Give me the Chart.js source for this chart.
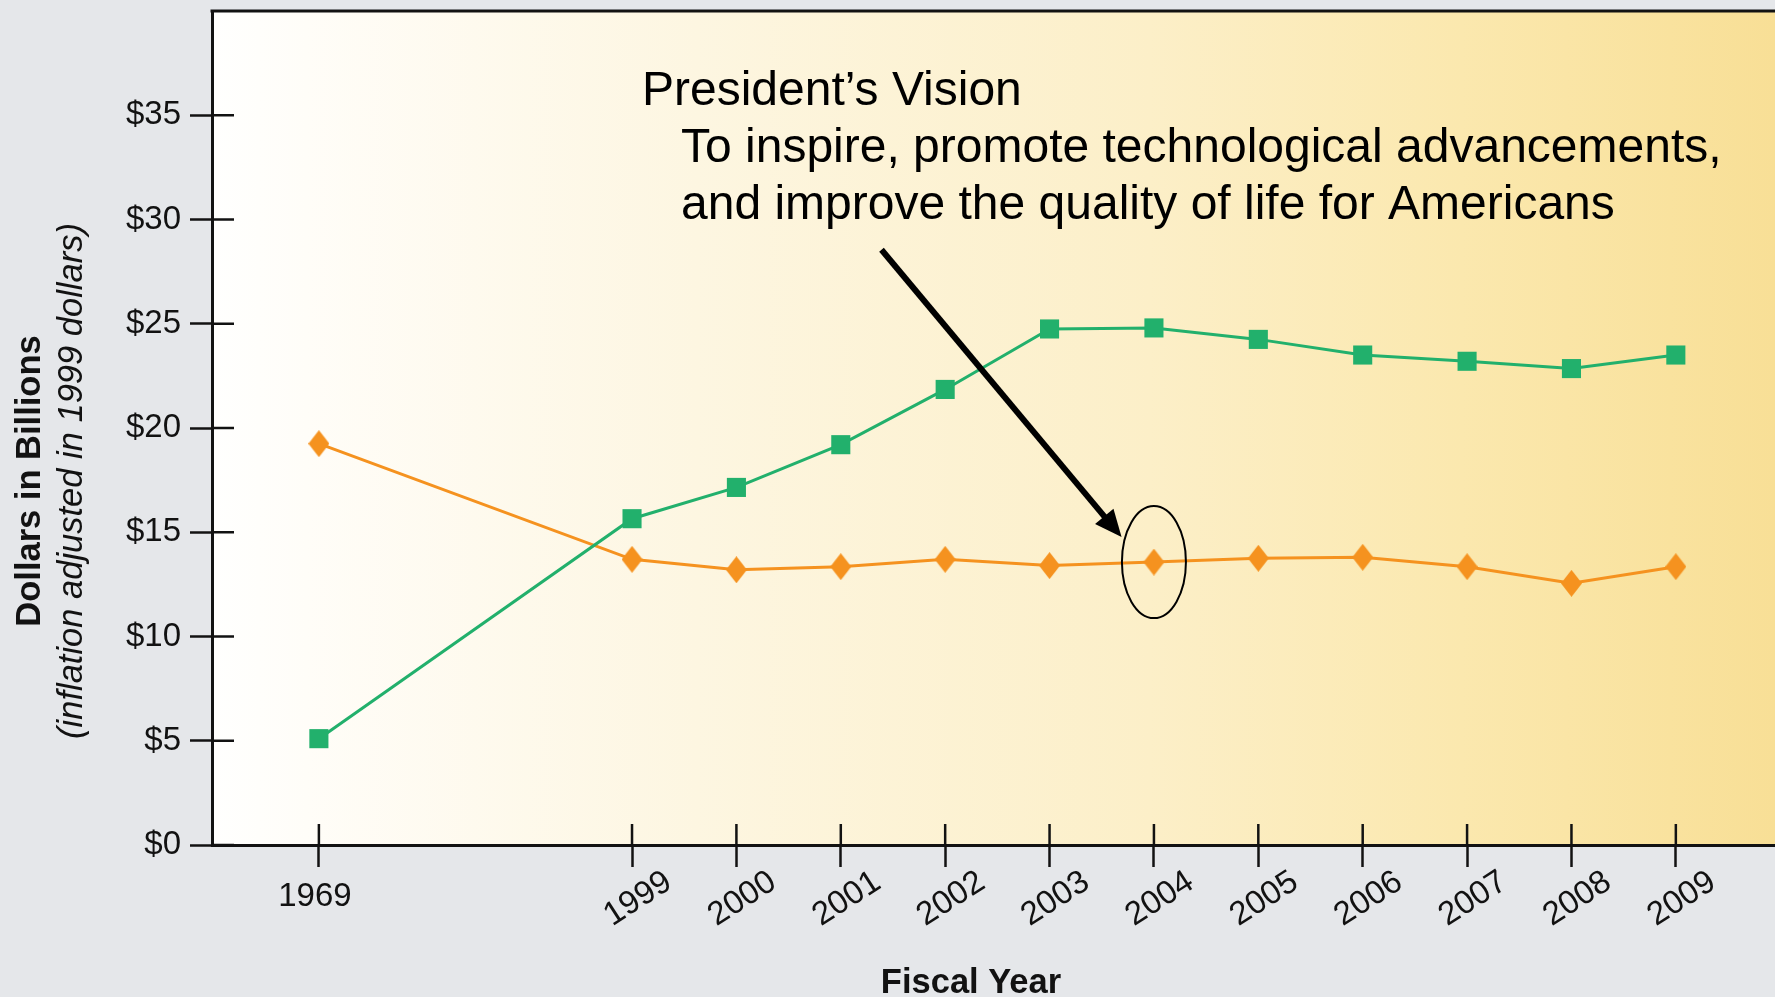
<!DOCTYPE html>
<html>
<head>
<meta charset="utf-8">
<script src="https://cdn.jsdelivr.net/npm/chart.js@4.4.1/dist/chart.umd.min.js"></script>
<style>
  html, body { margin: 0; padding: 0; background: #e5e7ea; overflow: hidden; }
  #wrap { position: relative; width: 1775px; height: 997px; }
</style>
</head>
<body>
<div id="wrap"><canvas id="c"></canvas></div>
<script>
// ---- data ----
const categories = ['1969', '', '', '1999', '2000', '2001', '2002', '2003', '2004', '2005', '2006', '2007', '2008', '2009'];
const greenSeries  = [5.1, null, null, 15.65, 17.15, 19.2, 21.85, 24.75, 24.8, 24.25, 23.5, 23.2, 22.85, 23.5];
const orangeSeries = [19.25, null, null, 13.7, 13.2, 13.35, 13.7, 13.4, 13.57, 13.75, 13.8, 13.35, 12.55, 13.35];
const yTickValues = [0, 5, 10, 15, 20, 25, 30, 35];
const yTickLabels = ['$0', '$5', '$10', '$15', '$20', '$25', '$30', '$35'];
const yTitle = 'Dollars in Billions';
const ySubtitle = '(inflation adjusted in 1999 dollars)';
const xTitle = 'Fiscal Year';
const noteLines = ['President\u2019s Vision', 'To inspire, promote technological advancements,', 'and improve the quality of life for Americans'];
const highlightCategory = '2004';

const FONT = '"Liberation Sans", Arial, Helvetica, sans-serif';
const GREEN = '#22b06c';
const ORANGE = '#f5921f';
const INK = '#121212';

function toPoints(arr) {
  return arr.map((v, i) => ({ x: i, y: v })).filter(p => p.y !== null);
}
const tickIndices = categories.map((c, i) => c === '' ? null : i).filter(v => v !== null);

// diamond marker (slightly taller than wide)
const diamond = document.createElement('canvas');
diamond.width = 21; diamond.height = 27;
(function () {
  const d = diamond.getContext('2d');
  d.fillStyle = ORANGE;
  d.beginPath();
  d.moveTo(10.5, 0); d.lineTo(21, 13.5); d.lineTo(10.5, 27); d.lineTo(0, 13.5);
  d.closePath(); d.fill();
})();

const decor = {
  id: 'decor',
  beforeDraw(chart) {
    const { ctx, chartArea: a } = chart;
    const g = ctx.createLinearGradient(a.left, 0, a.right, 0);
    g.addColorStop(0, '#fffffe');
    g.addColorStop(0.06, '#fffdf8');
    g.addColorStop(0.31, '#fdf6e1');
    g.addColorStop(0.6, '#fcefc8');
    g.addColorStop(0.8, '#fbe8ae');
    g.addColorStop(1, '#f8df96');
    ctx.save();
    ctx.fillStyle = g;
    ctx.fillRect(a.left, a.top, a.right - a.left, a.bottom - a.top);
    ctx.restore();
  },
  afterDatasetsDraw(chart) {
    const { ctx, chartArea: a, scales: { x, y } } = chart;
    ctx.save();
    // top border
    ctx.strokeStyle = INK; ctx.lineWidth = 3;
    ctx.beginPath(); ctx.moveTo(a.left - 1.5, a.top); ctx.lineTo(a.right, a.top); ctx.stroke();
    // inner halves of tick marks
    ctx.lineWidth = 2.5;
    yTickValues.forEach(v => {
      const py = y.getPixelForValue(v);
      ctx.beginPath(); ctx.moveTo(a.left, py); ctx.lineTo(a.left + 22, py); ctx.stroke();
    });
    tickIndices.forEach(i => {
      const px = x.getPixelForValue(i);
      ctx.beginPath(); ctx.moveTo(px, a.bottom); ctx.lineTo(px, a.bottom - 21); ctx.stroke();
    });

    // x tick labels
    ctx.fillStyle = INK;
    ctx.font = '33px ' + FONT;
    ctx.textAlign = 'center';
    ctx.textBaseline = 'middle';
    tickIndices.forEach((i, k) => {
      const px = x.getPixelForValue(i);
      if (k === 0) {
        ctx.fillText(categories[i], px - 4, 897);
      } else {
        ctx.save();
        ctx.translate(px + 6, 899);
        ctx.rotate(-33 * Math.PI / 180);
        ctx.fillText(categories[i], 0, 0);
        ctx.restore();
      }
    });

    // axis titles
    ctx.textBaseline = 'alphabetic';
    ctx.font = 'bold 34.5px ' + FONT;
    ctx.fillText(xTitle, 971, 993);
    ctx.save();
    ctx.translate(40, 481); ctx.rotate(-Math.PI / 2);
    ctx.fillText(yTitle, 0, 0);
    ctx.restore();
    ctx.save();
    ctx.font = 'italic 34.5px ' + FONT;
    ctx.translate(82, 481); ctx.rotate(-Math.PI / 2);
    ctx.fillText(ySubtitle, 0, 0);
    ctx.restore();

    // annotation text
    ctx.textAlign = 'left';
    ctx.font = '48px ' + FONT;
    ctx.fillStyle = '#000';
    ctx.fillText(noteLines[0], 642, 105);
    ctx.fillText(noteLines[1], 681, 162);
    ctx.fillText(noteLines[2], 681, 219);

    // arrow (in data coordinates)
    const hi = categories.indexOf(highlightCategory);
    const x0 = x.getPixelForValue(5.39), y0 = y.getPixelForValue(28.55);
    const x1 = x.getPixelForValue(7.69), y1 = y.getPixelForValue(14.77);
    const ang = Math.atan2(y1 - y0, x1 - x0);
    const headLen = 27, headHalf = 12;
    const bx = x1 - headLen * Math.cos(ang), by = y1 - headLen * Math.sin(ang);
    ctx.strokeStyle = '#000'; ctx.lineWidth = 6; ctx.lineCap = 'butt';
    ctx.beginPath(); ctx.moveTo(x0, y0); ctx.lineTo(bx + 2 * Math.cos(ang), by + 2 * Math.sin(ang)); ctx.stroke();
    ctx.beginPath();
    ctx.moveTo(x1, y1);
    ctx.lineTo(bx + headHalf * Math.sin(ang), by - headHalf * Math.cos(ang));
    ctx.lineTo(bx - headHalf * Math.sin(ang), by + headHalf * Math.cos(ang));
    ctx.closePath(); ctx.fillStyle = '#000'; ctx.fill();

    // ellipse around the highlighted point
    const ex = x.getPixelForValue(hi), ey = y.getPixelForValue(orangeSeries[hi]);
    ctx.lineWidth = 2;
    ctx.beginPath(); ctx.ellipse(ex, ey, 32, 56, 0, 0, Math.PI * 2); ctx.stroke();
    ctx.restore();
  }
};

new Chart(document.getElementById('c'), {
  type: 'line',
  data: {
    datasets: [
      {
        label: 'Green series',
        data: toPoints(greenSeries),
        borderColor: GREEN, backgroundColor: GREEN,
        borderWidth: 3, tension: 0,
        pointStyle: 'rect', pointRadius: 13.5, pointHoverRadius: 13.5,
        pointBorderWidth: 0
      },
      {
        label: 'Orange series',
        data: toPoints(orangeSeries),
        borderColor: ORANGE, backgroundColor: ORANGE,
        borderWidth: 3, tension: 0,
        pointStyle: diamond, pointRadius: 13, pointHoverRadius: 13,
        pointBorderWidth: 0
      }
    ]
  },
  options: {
    responsive: true,
    maintainAspectRatio: false,
    animation: false,
    events: [],
    layout: { autoPadding: false, padding: { top: 11, left: 0, right: 0, bottom: 0 } },
    plugins: { legend: { display: false }, tooltip: { enabled: false } },
    scales: {
      x: {
        type: 'linear', min: -1.024, max: 13.95,
        afterBuildTicks: s => { s.ticks = tickIndices.map(v => ({ value: v })); },
        ticks: { display: false },
        grid: { drawOnChartArea: false, drawTicks: true, tickLength: 22, tickWidth: 2.5, tickColor: INK },
        border: { display: true, color: INK, width: 3 },
        afterFit: s => { s.height = 152; s.paddingLeft = 0; s.paddingRight = 0; }
      },
      y: {
        min: 0, max: 40,
        afterBuildTicks: s => { s.ticks = yTickValues.map(v => ({ value: v })); },
        ticks: {
          font: { family: FONT, size: 33 }, color: INK, padding: 9,
          callback: (v) => yTickLabels[yTickValues.indexOf(v)]
        },
        grid: { drawOnChartArea: false, drawTicks: true, tickLength: 22, tickWidth: 2.5, tickColor: INK },
        border: { display: true, color: INK, width: 3 },
        afterFit: s => { s.width = 212; s.paddingTop = 0; s.paddingBottom = 0; }
      }
    }
  },
  plugins: [decor]
});
</script>
</body>
</html>
